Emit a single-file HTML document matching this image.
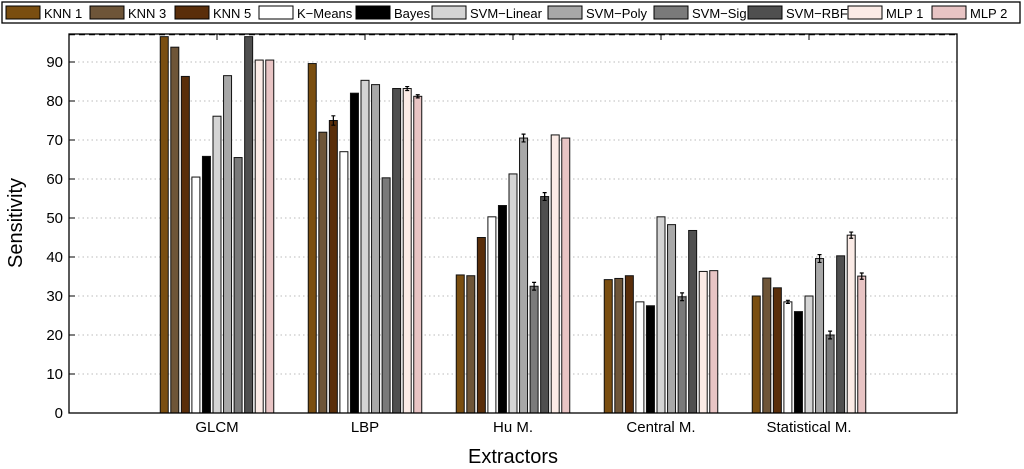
<!DOCTYPE html>
<html><head><meta charset="utf-8"><style>
body{margin:0;background:#fff;}
svg{display:block;font-family:"Liberation Sans",Arial,sans-serif;}
</style></head><body>
<svg id="c" width="1024" height="469"></svg>
<script>
const categories=["GLCM","LBP","Hu M.","Central M.","Statistical M."];
const seriesNames=["KNN 1","KNN 3","KNN 5","K\u2212Means","Bayes","SVM\u2212Linear","SVM\u2212Poly","SVM\u2212Sig","SVM\u2212RBF","MLP 1","MLP 2"];
const knn1=[96.5,89.6,35.4,34.2,30.0];
const knn3=[93.8,72.0,35.2,34.5,34.6];
const knn5=[86.3,75.0,45.0,35.2,32.1];
const kmeans=[60.5,67.0,50.3,28.5,28.5];
const bayes=[65.8,82.0,53.2,27.5,26.0];
const svmLinear=[76.1,85.3,61.3,50.3,30.0];
const svmPoly=[86.5,84.2,70.5,48.3,39.6];
const svmSig=[65.5,60.3,32.5,29.8,20.0];
const svmRbf=[96.5,83.2,55.5,46.8,40.3];
const mlp1=[90.5,83.2,71.3,36.3,45.6];
const mlp2=[90.5,81.2,70.5,36.5,35.1];
const errors=[[0,0,0,0,0],[0,0,0,0,0],[0,1.2,0,0,0],[0,0,0,0,0.4],[0,0,0,0,0],[0,0,0,0,0],[0,0,1,0,1],[0,0,1,1,1],[0,0,1,0,0],[0,0.5,0,0,0.8],[0,0.4,0,0,0.8]];
const yTicks=[0,10,20,30,40,50,60,70,80,90];
const refLine=97;
const series=[knn1,knn3,knn5,kmeans,bayes,svmLinear,svmPoly,svmSig,svmRbf,mlp1,mlp2];
const colors=["#7a4e10","#6e5538","#5a2e0a","#ffffff","#000000","#d4d4d4","#a8a8a8","#7a7a7a","#4f4f4f","#fbebe6","#e8c4c4"];
const legendX=[6,90,175,259,356,432,548,654,748,848,932];

const svg=document.getElementById('c');
const NS="http://www.w3.org/2000/svg";
function mk(t,a,p){const e=document.createElementNS(NS,t);for(const k in a)e.setAttribute(k,a[k]);(p||svg).appendChild(e);return e;}
const L=69,R=957,T=34,B=413;
const y=v=>B-v*3.9;
const x=i=>L+(i+1)*(R-L)/6;

yTicks.forEach(t=>{if(t>0){const g=mk('line',{x1:L,x2:R,y1:y(t),y2:y(t),stroke:'#bbb','stroke-dasharray':'1.5,3'});

}
const tk=mk('line',{x1:L,x2:L+6,y1:y(t),y2:y(t),stroke:'#000'});


const tl=mk('text',{x:L-6,y:y(t)+5,'text-anchor':'end','font-size':15});tl.textContent=t;

});
const rl=mk('line',{x1:L,x2:R,y1:y(refLine),y2:y(refLine),stroke:'#000','stroke-dasharray':'6,4','stroke-width':1.2});


const slot=10.55,bw=8;
categories.forEach((c,ci)=>{
 const cx=x(ci);
 series.forEach((s,si)=>{
  const bx=cx-5.5*slot+si*slot+(slot-bw)/2;
  const r=mk('rect',{x:bx,y:y(s[ci]),width:bw,height:B-y(s[ci]),fill:colors[si],stroke:'#111','stroke-width':1});
  
  
  const e=errors[si][ci];
  if(e>0){const ex=bx+bw/2;
   const el=mk('path',{d:`M${ex},${y(s[ci]+e)}V${y(s[ci]-e)}M${ex-2},${y(s[ci]+e)}H${ex+2}M${ex-2},${y(s[ci]-e)}H${ex+2}`,stroke:'#000','stroke-width':1.2,fill:'none'});
   
   }
 });
 const xl=mk('text',{x:cx,y:432,'text-anchor':'middle','font-size':15});xl.textContent=c;
 
 
 const tb=mk('line',{x1:cx,x2:cx,y1:T,y2:T+6,stroke:'#000'});
 
 
});
const frame=mk('rect',{x:L,y:T,width:R-L,height:B-T,fill:'none',stroke:'#000','stroke-width':1.3});


const yt=mk('text',{x:0,y:0,transform:'translate(22,223) rotate(-90)','text-anchor':'middle','font-size':20});yt.textContent='Sensitivity';


const xt=mk('text',{x:513,y:463,'text-anchor':'middle','font-size':20});xt.textContent='Extractors';


const lb=mk('rect',{x:2,y:2,width:1018,height:21,fill:'#fff',stroke:'#000','stroke-width':1.3});


seriesNames.forEach((n,i)=>{
 const sw=mk('rect',{x:legendX[i],y:6,width:34,height:13,fill:colors[i],stroke:'#000'});
 
 
 const t=mk('text',{x:legendX[i]+38,y:18,'font-size':13});t.textContent=n;
 
 
});
</script>
</body></html>
